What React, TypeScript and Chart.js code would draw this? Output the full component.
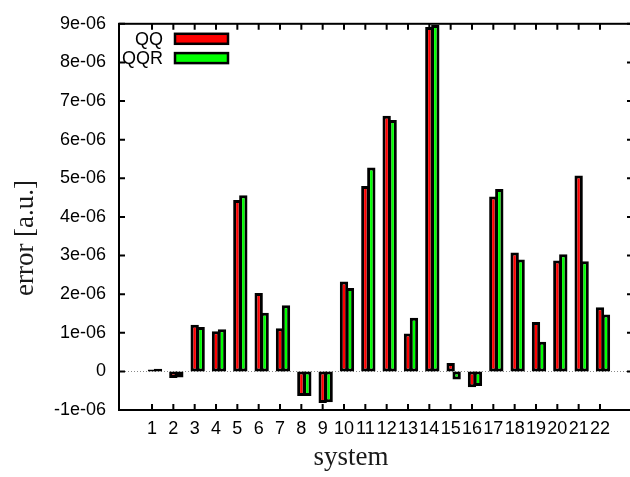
import React, { useEffect, useRef } from "react";
import { Chart, registerables } from "chart.js";

Chart.register(...registerables);

const categories = [1, 2, 3, 4, 5, 6, 7, 8, 9, 10, 11, 12, 13, 14, 15, 16, 17, 18, 19, 20, 21, 22];
const qqValues = [
  0.05e-6, -0.17e-6, 1.21e-6, 1.04e-6, 4.44e-6, 2.03e-6, 1.12e-6, -0.64e-6, -0.82e-6, 2.33e-6, 4.8e-6,
  6.62e-6, 0.98e-6, 8.92e-6, 0.22e-6, -0.41e-6, 4.53e-6, 3.08e-6, 1.28e-6, 2.87e-6, 5.07e-6, 1.66e-6,
];
const qqrValues = [
  0.07e-6, -0.16e-6, 1.15e-6, 1.09e-6, 4.56e-6, 1.52e-6, 1.71e-6, -0.64e-6, -0.8e-6, 2.16e-6, 5.28e-6,
  6.51e-6, 1.39e-6, 8.97e-6, -0.21e-6, -0.38e-6, 4.72e-6, 2.9e-6, 0.77e-6, 3.03e-6, 2.85e-6, 1.47e-6,
];
const seriesLabels = ["QQ", "QQR"];
const seriesColors = ["#ff0000", "#00ff00"];
const yTickValues = [-1e-6, 0, 1e-6, 2e-6, 3e-6, 4e-6, 5e-6, 6e-6, 7e-6, 8e-6, 9e-6];
const xTitle = "system";
const yTitle = "error [a.u.]";

const SANS = "'Liberation Sans', Arial, sans-serif";
const SERIF = "'Liberation Serif', 'Times New Roman', serif";

const gnuplotPlugin = {
  id: "gnuplotDecor",
  beforeDatasetsDraw(chart: any) {
    const { ctx, chartArea } = chart;
    const y = chart.scales.y;
    const y0 = Math.round(y.getPixelForValue(0)) + 0.5;
    ctx.save();
    ctx.strokeStyle = "#8a8a8a";
    ctx.lineWidth = 1;
    ctx.setLineDash([1, 2]);
    ctx.beginPath();
    ctx.moveTo(chartArea.left, y0);
    ctx.lineTo(chartArea.right, y0);
    ctx.stroke();
    ctx.restore();
  },
  afterDatasetsDraw(chart: any) {
    const { ctx, chartArea } = chart;
    const xs = chart.scales.x;
    const ys = chart.scales.y;
    const { left, right, top, bottom } = chartArea;
    ctx.save();
    ctx.strokeStyle = "#000";
    ctx.lineWidth = 2;
    ctx.setLineDash([]);
    ctx.strokeRect(left, top, right - left, bottom - top);
    const tl = 6;
    ctx.beginPath();
    for (const t of ys.ticks) {
      const py = ys.getPixelForValue(t.value);
      ctx.moveTo(left, py);
      ctx.lineTo(left + tl, py);
      ctx.moveTo(right, py);
      ctx.lineTo(right - tl, py);
    }
    for (const t of xs.ticks) {
      const px = xs.getPixelForValue(t.value);
      ctx.moveTo(px, bottom);
      ctx.lineTo(px, bottom - tl);
      ctx.moveTo(px, top);
      ctx.lineTo(px, top + tl);
    }
    ctx.stroke();

    // legend
    ctx.font = `18px ${SANS}`;
    ctx.textAlign = "right";
    ctx.textBaseline = "middle";
    chart.data.datasets.forEach((ds: any, i: number) => {
      const cy = top + 15 + i * 19.3;
      ctx.fillStyle = "#000";
      ctx.fillText(ds.label, left + 44, cy + 1);
      ctx.fillStyle = ds.backgroundColor;
      ctx.fillRect(left + 56, cy - 5, 53, 10);
      ctx.lineWidth = 2.5;
      ctx.strokeStyle = "#000";
      ctx.strokeRect(left + 56, cy - 5, 53, 10);
    });

    // axis titles
    ctx.fillStyle = "#1a1a1a";
    ctx.font = `27px ${SERIF}`;
    ctx.textAlign = "center";
    ctx.textBaseline = "alphabetic";
    ctx.fillText(xTitle, 351, 465);
    ctx.translate(33, 238);
    ctx.rotate(-Math.PI / 2);
    ctx.fillText(yTitle, 0, 0);
    ctx.restore();
  },
};

export default function App() {
  const ref = useRef<HTMLCanvasElement | null>(null);

  useEffect(() => {
    if (!ref.current) return;
    const chart = new Chart(ref.current, {
      type: "bar",
      data: {
        datasets: [qqValues, qqrValues].map((vals, i) => ({
          label: seriesLabels[i],
          data: categories.map((c, j) => ({ x: c, y: vals[j] })),
          backgroundColor: seriesColors[i],
          borderColor: "#000",
          borderWidth: 3,
          borderSkipped: false,
          xAxisID: "xb",
          yAxisID: "y",
          categoryPercentage: 0.56,
          barPercentage: 1.4,
        })),
      },
      options: {
        responsive: false,
        animation: false,
        devicePixelRatio: 1,
        layout: { padding: { top: 16, right: 7, left: 0, bottom: 0 } },
        plugins: { legend: { display: false }, tooltip: { enabled: false } },
        scales: {
          xb: {
            type: "linear",
            display: false,
            min: -0.14,
            max: 22.86,
            afterBuildTicks: (s: any) => {
              s.ticks = categories.map((c) => ({ value: c }));
            },
          },
          x: {
            type: "linear",
            position: "bottom",
            min: 0,
            max: 23,
            afterBuildTicks: (s: any) => {
              s.ticks = categories.map((c) => ({ value: c }));
            },
            afterFit: (s: any) => {
              s.height = 67;
            },
            grid: { display: false, drawTicks: false },
            border: { display: false },
            ticks: {
              autoSkip: false,
              maxRotation: 0,
              minRotation: 0,
              padding: 8,
              color: "#000",
              font: { family: SANS, size: 18 },
              callback: (v: any) => String(v),
            },
          },
          y: {
            type: "linear",
            position: "left",
            min: -1e-6,
            max: 9e-6,
            afterBuildTicks: (s: any) => {
              s.ticks = yTickValues.map((v) => ({ value: v }));
            },
            afterFit: (s: any) => {
              s.width = 119;
            },
            grid: { display: false, drawTicks: false },
            border: { display: false },
            ticks: {
              padding: 13,
              color: "#000",
              font: { family: SANS, size: 18 },
              callback: (v: any) => {
                const n = Math.round(Number(v) * 1e6);
                return n === 0 ? "0" : `${n}e-06`;
              },
            },
          },
        },
      },
      plugins: [gnuplotPlugin],
    } as any);
    return () => chart.destroy();
  }, []);

  return (
    <div
      style={{
        position: "fixed",
        left: 0,
        top: 0,
        width: 630,
        height: 477,
        overflow: "hidden",
        background: "#fff",
      }}
    >
      <canvas ref={ref} width={640} height={477} style={{ display: "block", width: 640, height: 477 }} />
    </div>
  );
}
